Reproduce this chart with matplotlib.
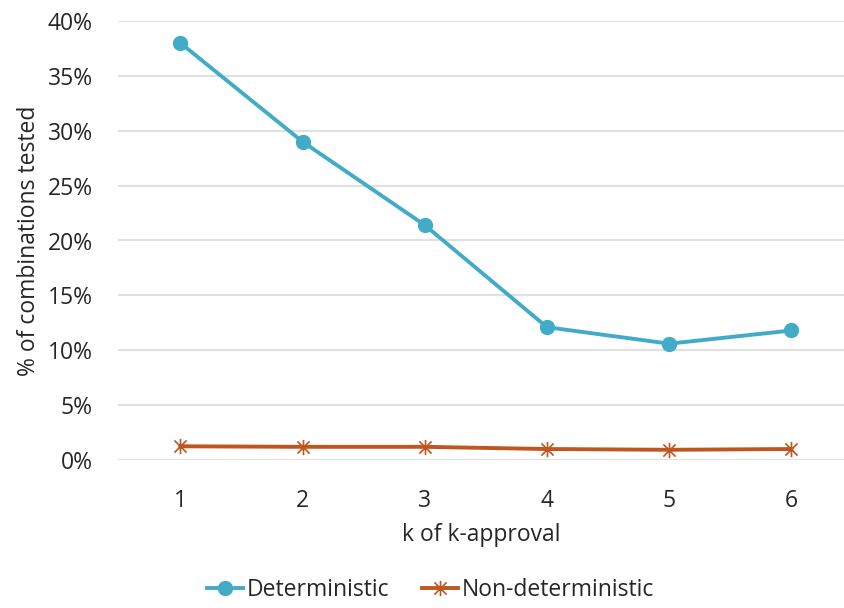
import matplotlib
matplotlib.use("Agg")
import matplotlib.pyplot as plt
from matplotlib.path import Path
from matplotlib.ticker import FuncFormatter

plt.rcParams['font.family'] = ['Open Sans', 'DejaVu Sans']

k_values = [1, 2, 3, 4, 5, 6]
deterministic = [38.0, 29.0, 21.4, 12.1, 10.6, 11.8]
non_deterministic = [1.25, 1.2, 1.2, 1.0, 0.93, 1.0]
y_ticks = [0, 5, 10, 15, 20, 25, 30, 35, 40]

blue = '#42ACC8'
orange = '#C0561F'
text_color = '#262626'
fs = 16.5

star = Path([(0, -1), (0, 1), (-0.8, -0.8), (0.8, 0.8), (-0.8, 0.8), (0.8, -0.8)],
            [Path.MOVETO, Path.LINETO, Path.MOVETO, Path.LINETO, Path.MOVETO, Path.LINETO])

fig = plt.figure(figsize=(8.44, 6.08), dpi=100)
ax = fig.add_axes([118/844, 148/608, 1 - 118/844, 439/608])

ax.plot(k_values, deterministic, color=blue, lw=2.8, marker='o', markersize=10,
        markeredgecolor=blue, label='Deterministic', zorder=3)
ax.plot(k_values, non_deterministic, color=orange, lw=2.8, marker=star, markersize=11,
        markeredgecolor=orange, markeredgewidth=1.2, label='Non-deterministic', zorder=3)

ax.set_xlim(0.49, 6.43)
ax.set_ylim(0, 40)
ax.set_yticks(y_ticks)
ax.yaxis.set_major_formatter(FuncFormatter(lambda v, p: f'{int(v)}%'))
ax.set_xticks(k_values)
ax.grid(axis='y', color='#E0E0E0', lw=1.5)
ax.set_axisbelow(True)
for s in ax.spines.values():
    s.set_visible(False)
ax.tick_params(axis='both', length=0, labelsize=fs, colors=text_color)
ax.tick_params(axis='y', pad=18)
ax.tick_params(axis='x', pad=21)

ax.set_xlabel('k of k-approval', fontsize=fs, color=text_color, labelpad=7)
ax.set_ylabel('% of combinations tested', fontsize=fs, color=text_color)
ax.yaxis.set_label_coords(-0.106, 0.5)

fig.legend(loc='center', bbox_to_anchor=(0.51, 0.029), ncol=2, frameon=False,
           fontsize=fs, handlelength=1.6, handletextpad=0.15, columnspacing=1.4,
           labelcolor=text_color)

fig.savefig('out.png', dpi=100)
